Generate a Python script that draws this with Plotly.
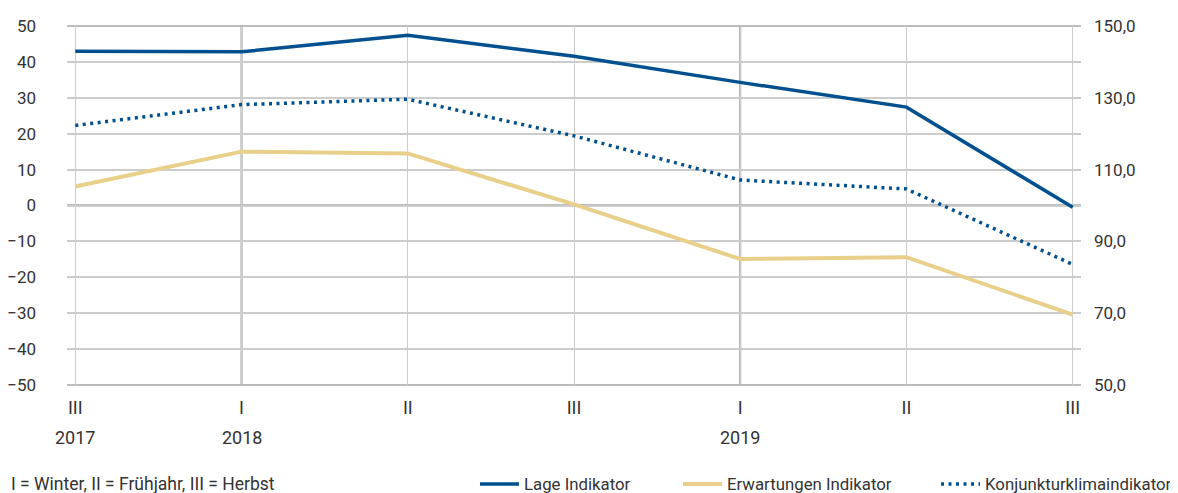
import plotly.graph_objects as go

categories = ["III", "I", "II", "III", "I", "II", "III"]
years = {0: "2017", 1: "2018", 4: "2019"}
lage = [43.0, 42.8, 47.4, 41.6, 34.3, 27.4, -0.5]
erwartungen = [5.3, 15.0, 14.5, 0.3, -14.9, -14.4, -30.4]
konjunktur = [122.3, 128.1, 129.6, 119.4, 107.1, 104.6, 83.6]
year_lines = [1, 4]

x = list(range(len(categories)))
BLUE = "#00508f"
GOLD = "#e8d08a"
TXT = "#333333"
FONT = "Roboto, Liberation Sans, sans-serif"
NARROW = "Liberation Sans Narrow, Roboto, sans-serif"
DOTS = "3px,4.5px"

# page body has an 8px margin -> figure is drawn offset by 8px
OFF = 8
W, H = 1178 - OFF, 493 - OFF
pl, pr, pt, pb = 67, 1081, 26, 385  # plot area in screen px
pw, ph = pr - pl, pb - pt

fig = go.Figure()
fig.add_trace(go.Scatter(x=x, y=lage, mode="lines", name="Lage Indikator",
                         line=dict(color=BLUE, width=3.5), yaxis="y"))
fig.add_trace(go.Scatter(x=x, y=erwartungen, mode="lines", name="Erwartungen Indikator",
                         line=dict(color=GOLD, width=4), yaxis="y"))
fig.add_trace(go.Scatter(x=x, y=konjunktur, mode="lines", name="Konjunkturklimaindikator",
                         line=dict(color=BLUE, width=3.5, dash=DOTS), yaxis="y2"))

shapes = []
shapes.append(dict(type="line", xref="paper", yref="y", x0=0, x1=1, y0=0, y1=0,
                   line=dict(color="#a6a6a6", width=2.5), layer="below"))
for xv in year_lines:
    shapes.append(dict(type="line", xref="x", yref="paper", x0=xv, x1=xv, y0=0, y1=1,
                       line=dict(color="#a0a0a0", width=2), layer="below"))
for yv in [0, 1]:
    shapes.append(dict(type="line", xref="paper", yref="paper", x0=0, x1=1, y0=yv, y1=yv,
                       line=dict(color="#a6a6a6", width=1.5), layer="below"))

annotations = []
for i, yr in years.items():
    annotations.append(dict(x=i, y=(pb - 437) / ph, xref="x", yref="paper", text=yr, showarrow=False,
                            xanchor="center", yanchor="middle",
                            font=dict(family=FONT, size=18, color=TXT)))

def px(xp):
    return (xp - pl) / pw

ly_px = 484
ly_paper = (pb - ly_px) / ph
annotations.append(dict(x=px(9), y=ly_paper, xref="paper", yref="paper", xanchor="left",
                        yanchor="middle", showarrow=False,
                        text="I = Winter, II = Frühjahr, III = Herbst",
                        font=dict(family=NARROW, size=17.5, color=TXT)))

legend_items = [("Lage Indikator", 480, dict(color=BLUE, width=3.5)),
                ("Erwartungen Indikator", 683, dict(color=GOLD, width=4)),
                ("Konjunkturklimaindikator", 941, dict(color=BLUE, width=3.5, dash=DOTS))]
for label, x0, ln in legend_items:
    shapes.append(dict(type="line", xref="paper", yref="paper", x0=px(x0), x1=px(x0 + 39),
                       y0=ly_paper, y1=ly_paper, line=ln))
    annotations.append(dict(x=px(x0 + 42), y=ly_paper, xref="paper", yref="paper", xanchor="left",
                            yanchor="middle", showarrow=False, text=label,
                            font=dict(family=NARROW, size=16.8, color=TXT)))

fig.update_layout(
    width=W, height=H,
    margin=dict(l=pl - OFF, r=W + OFF - pr, t=pt - OFF, b=H + OFF - pb, autoexpand=False),
    plot_bgcolor="white", paper_bgcolor="white",
    showlegend=False,
    separators=",.",
    font=dict(family=FONT, size=17, color=TXT),
    xaxis=dict(range=[-0.05, 6.05], tickmode="array", tickvals=x, ticktext=categories,
               showgrid=True, gridcolor="#cccccc", gridwidth=1, zeroline=False,
               showline=False, ticks="", ticklabelstandoff=10, automargin=False,
               tickfont=dict(size=18, color=TXT)),
    yaxis=dict(range=[-50, 50], dtick=10, tickmode="linear", showgrid=True,
               gridcolor="#cccccc", gridwidth=1.5, zeroline=False, showline=False,
               ticks="", ticklabelstandoff=30, automargin=False,
               tickfont=dict(size=17, color=TXT)),
    yaxis2=dict(range=[50, 150], tick0=50, dtick=20, tickmode="linear", overlaying="y",
                side="right", showgrid=False, zeroline=False, showline=False, tickformat=".1f",
                ticks="", ticklabelstandoff=12, automargin=False,
                tickfont=dict(size=17, color=TXT)),
    shapes=shapes,
    annotations=annotations,
)
fig.write_html("out.html")
